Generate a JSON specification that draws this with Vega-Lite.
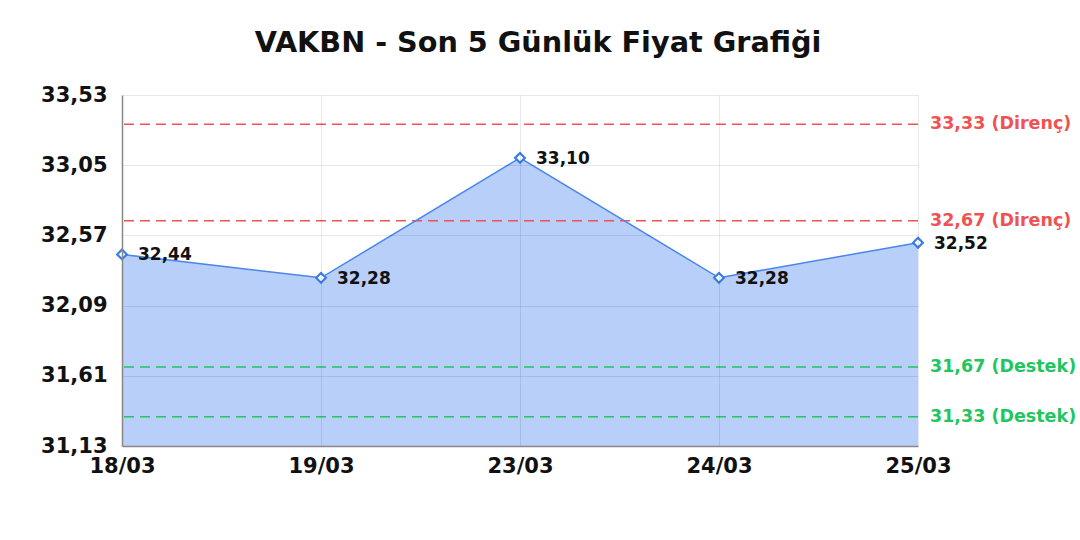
{
  "$schema": "https://vega.github.io/schema/vega-lite/v6.json",
  "autosize": {"type": "none"},
  "width": 796,
  "height": 351,
  "padding": {"left": 122, "top": 95, "right": 162, "bottom": 94},
  "background": "white",
  "title": {
    "text": "VAKBN - Son 5 Günlük Fiyat Grafiği",
    "font": "DejaVu Sans",
    "fontSize": 28.7,
    "fontWeight": "bold",
    "color": "#111111",
    "frame": "group",
    "anchor": "middle",
    "baseline": "alphabetic",
    "offset": 3,
    "dx": 18
  },
  "datasets": {
    "prices": [
      {"date": "18/03", "close": 32.44},
      {"date": "19/03", "close": 32.28},
      {"date": "23/03", "close": 33.10},
      {"date": "24/03", "close": 32.28},
      {"date": "25/03", "close": 32.52}
    ],
    "levels": [
      {"level": 33.33, "kind": "Direnç", "label": "33,33 (Direnç)"},
      {"level": 32.67, "kind": "Direnç", "label": "32,67 (Direnç)"},
      {"level": 31.67, "kind": "Destek", "label": "31,67 (Destek)"},
      {"level": 31.33, "kind": "Destek", "label": "31,33 (Destek)"}
    ]
  },
  "layer": [
    {
      "data": {"name": "prices"},
      "mark": {"type": "area", "color": "#b7cff9", "opacity": 1, "clip": true},
      "encoding": {
        "x": {
          "field": "date",
          "type": "ordinal",
          "sort": null,
          "scale": {"type": "point", "padding": 0},
          "axis": {
            "title": null,
            "labelAngle": 0,
            "labelFont": "DejaVu Sans",
            "labelFontSize": 21,
            "labelFontWeight": "bold",
            "labelColor": "#111111",
            "labelPadding": 9,
            "ticks": false,
            "grid": true,
            "gridColor": "#000000",
            "gridOpacity": 0.09,
            "domainColor": "#888888",
            "domainWidth": 1.5,
            "zindex": 1
          }
        },
        "y": {
          "field": "close",
          "type": "quantitative",
          "scale": {"domain": [31.13, 33.53], "nice": false, "zero": false},
          "axis": {
            "title": null,
            "values": [31.13, 31.61, 32.09, 32.57, 33.05, 33.53],
            "format": ".2f",
            "labelFont": "DejaVu Sans",
            "labelFontSize": 21,
            "labelFontWeight": "bold",
            "labelColor": "#111111",
            "labelPadding": 15,
            "ticks": false,
            "grid": true,
            "gridColor": "#000000",
            "gridOpacity": 0.09,
            "domainColor": "#888888",
            "domainWidth": 1.5,
            "zindex": 1
          }
        }
      }
    },
    {
      "data": {"name": "levels"},
      "mark": {"type": "rule", "strokeDash": [10, 6], "strokeWidth": 1.5},
      "encoding": {
        "y": {"field": "level", "type": "quantitative"},
        "color": {
          "field": "kind",
          "type": "nominal",
          "scale": {"domain": ["Direnç", "Destek"], "range": ["#f05252", "#22c55e"]},
          "legend": null
        }
      }
    },
    {
      "data": {"name": "levels"},
      "mark": {
        "type": "text",
        "align": "left",
        "baseline": "middle",
        "dx": 12,
        "font": "DejaVu Sans",
        "fontSize": 17.5,
        "fontWeight": "bold"
      },
      "encoding": {
        "x": {"datum": "25/03"},
        "y": {"field": "level", "type": "quantitative"},
        "text": {"field": "label"},
        "color": {"field": "kind", "type": "nominal", "legend": null}
      }
    },
    {
      "data": {"name": "prices"},
      "mark": {"type": "line", "color": "#4a86e8", "strokeWidth": 1.5},
      "encoding": {
        "x": {"field": "date", "type": "ordinal", "sort": null},
        "y": {"field": "close", "type": "quantitative"}
      }
    },
    {
      "data": {"name": "prices"},
      "mark": {
        "type": "point",
        "shape": "diamond",
        "filled": false,
        "fill": "white",
        "fillOpacity": 1,
        "stroke": "#3b7de0",
        "strokeWidth": 2.2,
        "size": 95,
        "opacity": 1
      },
      "encoding": {
        "x": {"field": "date", "type": "ordinal", "sort": null},
        "y": {"field": "close", "type": "quantitative"}
      }
    },
    {
      "data": {"name": "prices"},
      "mark": {
        "type": "text",
        "align": "left",
        "baseline": "middle",
        "dx": 16,
        "dy": 1,
        "font": "DejaVu Sans",
        "fontSize": 17,
        "fontWeight": "bold",
        "color": "#111111"
      },
      "encoding": {
        "x": {"field": "date", "type": "ordinal", "sort": null},
        "y": {"field": "close", "type": "quantitative"},
        "text": {"field": "close", "type": "quantitative", "format": ".2f"}
      }
    }
  ],
  "config": {
    "view": {"stroke": null},
    "locale": {
      "number": {
        "decimal": ",",
        "thousands": ".",
        "grouping": [3],
        "currency": ["", " TL"]
      }
    }
  }
}
